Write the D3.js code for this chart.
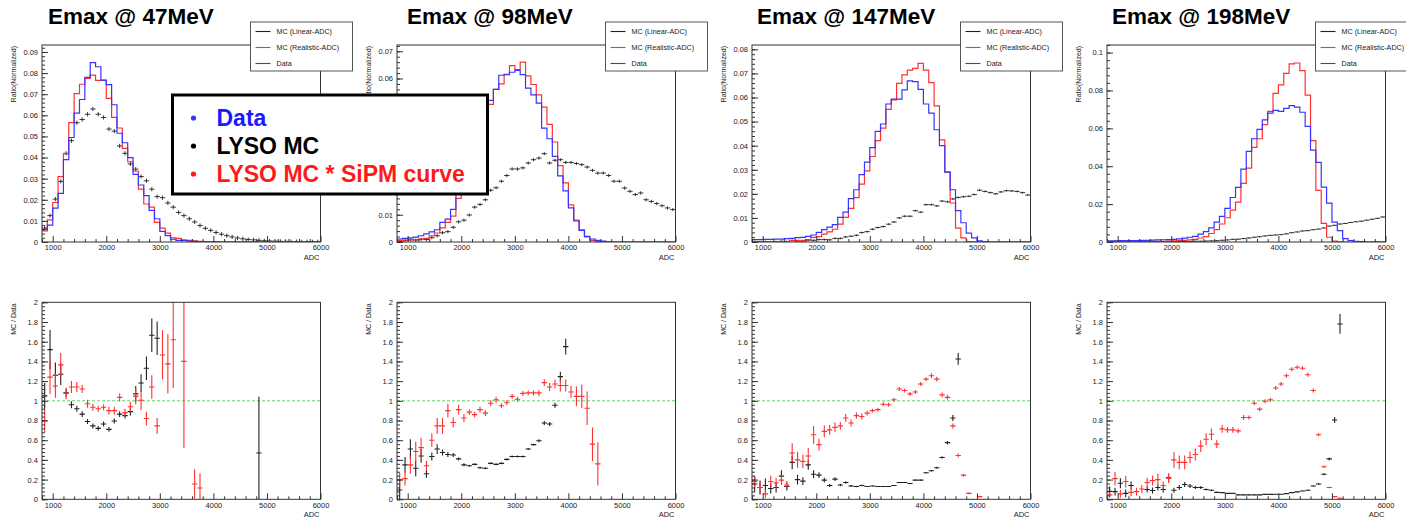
<!DOCTYPE html>
<html>
<head>
<meta charset="utf-8">
<script src="https://cdn.jsdelivr.net/npm/d3@7"></script>
<style>
body { margin: 0; background: #fff; }
text { font-family: "Liberation Sans", Arial, sans-serif; }
</style>
</head>
<body>
<script>
// ---- labels / ticks ----
var titles = ["Emax @ 47MeV", "Emax @ 98MeV", "Emax @ 147MeV", "Emax @ 198MeV"];
var legendLabels = ["MC (Linear-ADC)", "MC (Realistic-ADC)", "Data"];
var keyLabels = ["Data", "LYSO MC", "LYSO MC * SiPM curve"];
var adcTicks = [1000, 2000, 3000, 4000, 5000, 6000];
var adcRange = [800, 6000], binWidth = 100;
var ratioTicks = [0, 0.2, 0.4, 0.6, 0.8, 1, 1.2, 1.4, 1.6, 1.8, 2];
var normTicks = [
  [0, 0.01, 0.02, 0.03, 0.04, 0.05, 0.06, 0.07, 0.08, 0.09],
  [0, 0.01, 0.02, 0.03, 0.04, 0.05, 0.06, 0.07],
  [0, 0.01, 0.02, 0.03, 0.04, 0.05, 0.06, 0.07, 0.08],
  [0, 0.02, 0.04, 0.06, 0.08, 0.1]
];
var normMinor = [0.002, 0.002, 0.002, 0.004];
var normMax = [0.0933, 0.0723, 0.0818, 0.104];
var linErrTop = [0.001, 0.0006, 0.0004, 0.0003];

// ---- histograms, bins of 100 ADC from 800 ----
var data47 = [0.006,0.008,0.016,0.023,0.039,0.0495,0.061,0.0675,0.078,0.085,
  0.083,0.0767,0.0745,0.065,0.0515,0.047,0.040,0.032,0.027,0.022,
  0.015,0.011,0.005,0.003,0.0013,0.0008,0.0007,0.0004,0.0003,0.0002,
  0.0001,0.0001,0.0001,0,0,0,0,0,0,0,
  0,0,0,0,0,0,0,0,0,0,
  0,0];
var real47 = [0.0053,0.0105,0.0187,0.031,0.0417,0.0565,0.0703,0.0747,0.0775,0.079,
  0.0765,0.0765,0.068,0.059,0.054,0.0443,0.038,0.0335,0.025,0.018,
  0.0165,0.0093,0.0066,0.0042,0.002,0.0017,0.001,0.0008,0.0005,0.0003,
  0.0002,0.0001,0,0,0,0,0,0,0,0,
  0,0,0,0,0,0,0,0,0,0,
  0,0];
var lin47 = [0.0066,0.0125,0.0203,0.0287,0.042,0.048,0.0565,0.058,0.0605,0.063,
  0.0605,0.059,0.0535,0.0525,0.0455,0.042,0.037,0.0345,0.031,0.029,
  0.025,0.0215,0.021,0.0185,0.0165,0.014,0.0125,0.011,0.0095,0.0078,
  0.0065,0.0055,0.0045,0.0037,0.003,0.0024,0.0019,0.0015,0.0012,0.001,
  0.0008,0.0006,0.0005,0.0004,0.0003,0.0003,0.0002,0.0002,0.0001,0.0001,
  0.0001,0.0001];

var data98 = [0.0011,0.0013,0.0015,0.0018,0.0023,0.003,0.0037,0.0045,0.0072,0.0084,
  0.012,0.018,0.023,0.029,0.036,0.043,0.049,0.052,0.056,0.0612,
  0.0614,0.0623,0.063,0.0614,0.0565,0.054,0.051,0.0418,0.0379,0.0314,
  0.0243,0.0188,0.0125,0.0077,0.0043,0.0021,0.0011,0.0006,0.0003,0.0001,
  0,0,0,0,0,0,0,0,0,0,
  0,0];
var real98 = [0.0006,0.0007,0.0008,0.0009,0.0011,0.0013,0.0023,0.0033,0.0052,0.0072,
  0.0095,0.016,0.019,0.0257,0.031,0.039,0.043,0.0505,0.056,0.058,
  0.0615,0.0647,0.0633,0.066,0.061,0.0578,0.054,0.0495,0.0432,0.0367,
  0.028,0.0217,0.0136,0.008,0.0045,0.0019,0.0006,0.0002,0.0001,0,
  0,0,0,0,0,0,0,0,0,0,
  0,0];
var lin98 = [0.0002,0.0005,0.0008,0.0007,0.001,0.0009,0.0016,0.0023,0.0034,0.0038,
  0.0054,0.0074,0.008,0.0099,0.0128,0.0138,0.0155,0.019,0.0199,0.0223,
  0.0244,0.0268,0.0268,0.0272,0.029,0.0302,0.0308,0.0324,0.029,0.030,
  0.0302,0.0292,0.0292,0.0288,0.0284,0.0275,0.0263,0.0253,0.0253,0.0244,
  0.0223,0.0223,0.0198,0.0186,0.0174,0.018,0.0155,0.0149,0.0141,0.0133,
  0.0125,0.0119];

var data147 = [0.001,0.001,0.0011,0.0011,0.0012,0.0012,0.0014,0.0015,0.0018,0.0019,
  0.0023,0.0029,0.004,0.0051,0.0062,0.0072,0.0102,0.0124,0.018,0.0217,
  0.028,0.0332,0.0392,0.0459,0.049,0.0573,0.0593,0.0593,0.0632,0.0669,
  0.0666,0.0634,0.0573,0.0535,0.0466,0.040,0.029,0.0217,0.013,0.008,
  0.0037,0.0017,0.0005,0.0002,0,0,0,0,0,0,
  0,0];
var real147 = [0.0002,0.0001,0.0001,0.0002,0.0002,0.0002,0.0002,0.0007,0.0007,0.0007,
  0.001,0.0019,0.0022,0.0033,0.0042,0.0053,0.0074,0.0102,0.014,0.0184,
  0.024,0.0295,0.0355,0.0421,0.0473,0.0551,0.059,0.0659,0.0694,0.0714,
  0.0721,0.0742,0.0714,0.0662,0.0565,0.0424,0.029,0.0162,0.0058,0.0017,
  0.0002,0.0001,0,0,0,0,0,0,0,0,
  0,0];
var lin147 = [0.0002,0.0001,0.0002,0.0001,0.0001,0.0003,0.0002,0.0006,0.0004,0.0004,
  0.0008,0.0007,0.001,0.001,0.0009,0.0015,0.0015,0.0021,0.0024,0.0028,
  0.0039,0.0043,0.0053,0.006,0.0064,0.0074,0.0083,0.01,0.0107,0.0107,
  0.013,0.0124,0.0155,0.0155,0.015,0.017,0.0167,0.0179,0.0185,0.0188,
  0.019,0.0197,0.0215,0.021,0.0205,0.020,0.0208,0.0213,0.0212,0.021,
  0.0205,0.0195];

var data198 = [0.0006,0.0006,0.0007,0.0007,0.0008,0.0008,0.0009,0.0009,0.001,0.0011,
  0.0012,0.0013,0.0014,0.0016,0.002,0.0025,0.003,0.0042,0.0055,0.0075,
  0.0105,0.0135,0.0178,0.0235,0.0288,0.0385,0.0478,0.0545,0.0595,0.0645,
  0.068,0.0695,0.069,0.0705,0.072,0.0712,0.0685,0.061,0.0485,0.042,
  0.029,0.0205,0.0105,0.006,0.0018,0.0008,0.0004,0.0002,0,0,
  0,0];
var real198 = [0.0002,0.0003,0.0002,0.0003,0.0002,0.0002,0.0003,0.0003,0.0003,0.0004,
  0.0004,0.0005,0.0006,0.0008,0.0009,0.0011,0.0014,0.0021,0.0028,0.0045,
  0.0065,0.0095,0.0128,0.0168,0.021,0.031,0.039,0.050,0.0545,0.062,
  0.069,0.0785,0.083,0.089,0.094,0.0945,0.0905,0.0775,0.0535,0.0273,
  0.0098,0.0025,0.0005,0.0001,0,0,0,0,0,0,
  0,0];
var lin198 = [0.0001,0.0001,0.0001,0.0001,0.0001,0.0001,0.0001,0.0001,0.0001,0.0001,
  0.0002,0.0002,0.0002,0.0002,0.0003,0.0003,0.0004,0.0004,0.0005,0.0006,
  0.0007,0.0009,0.0011,0.0014,0.0015,0.0018,0.0021,0.0025,0.0028,0.0032,
  0.0035,0.0037,0.0039,0.0043,0.0049,0.0053,0.0058,0.006,0.0065,0.0068,
  0.0074,0.0084,0.0088,0.0095,0.0098,0.0103,0.0107,0.011,0.0115,0.012,
  0.0125,0.0132];

// ---- MC / Data ratios, same bins ----
var linRatio47 = [1.05,1.52,1.26,1.27,1.08,0.96,0.92,0.865,0.79,0.745,
  0.72,0.765,0.71,0.795,0.865,0.85,0.89,1.07,1.18,1.33,
  1.665,1.635,null,null,null,null,null,null,null,null,
  null,null,null,null,null,null,null,null,null,null,
  0.47];
var linErr47 = [0.13,0.2,0.13,0.11,0.04,0.035,0.03,0.03,0.025,0.025,
  0.025,0.025,0.025,0.025,0.03,0.03,0.04,0.08,0.09,0.12,
  0.17,0.17,0,0,0,0,0,0,0,0,
  0,0,0,0,0,0,0,0,0,0,
  0.57];
var realRatio47 = [0.8,1.24,1.15,1.365,1.075,1.14,1.14,1.12,0.97,0.935,
  0.92,0.935,0.9,0.9,1.035,0.88,0.94,1.045,1.005,0.82,
  1.14,0.745,1.465,1.375,1.62,null,1.40,null,0.155,0.115];
var realErr47 = [0.12,0.17,0.12,0.12,0.06,0.06,0.05,0.04,0.04,0.035,
  0.03,0.03,0.04,0.04,0.04,0.04,0.05,0.08,0.1,0.07,
  0.12,0.08,0.25,0.3,0.49,0,0.88,0,0.15,0.15];

var linRatio98 = [0.095,0.35,0.51,0.315,0.44,0.26,0.435,0.51,0.475,0.455,
  0.45,0.41,0.35,0.34,0.355,0.32,0.315,0.365,0.355,0.365,
  0.405,0.435,0.435,0.435,0.51,0.555,0.595,0.775,0.765,0.955,
  1.245,1.55];
var linErr98 = [0.1,0.08,0.1,0.08,0.07,0.04,0.04,0.05,0.03,0.025,
  0.02,0.015,0.015,0.01,0.01,0.01,0.01,0.01,0.01,0.01,
  0.01,0.01,0.01,0.01,0.01,0.01,0.015,0.02,0.02,0.025,
  0.05,0.08];
var realRatio98 = [0.2,0.21,0.35,0.485,0.525,0.34,0.6,0.745,0.745,0.9,
  0.78,0.91,0.825,0.885,0.86,0.91,0.875,0.975,1.01,0.95,
  0.98,1.045,1.015,1.075,1.08,1.08,1.08,1.185,1.14,1.17,
  1.155,1.155,1.09,1.045,1.045,0.925,0.56,0.36];
var realErr98 = [0.07,0.07,0.09,0.1,0.1,0.05,0.07,0.08,0.08,0.07,
  0.05,0.05,0.04,0.03,0.03,0.03,0.03,0.03,0.03,0.025,
  0.025,0.025,0.025,0.025,0.025,0.025,0.03,0.035,0.04,0.045,
  0.06,0.06,0.06,0.1,0.12,0.17,0.17,0.22];

var linRatio147 = [0.155,0.12,0.14,0.11,0.12,0.235,0.13,0.375,0.2,0.185,
  0.35,0.255,0.245,0.195,0.14,0.205,0.145,0.17,0.135,0.13,
  0.14,0.13,0.135,0.13,0.13,0.13,0.14,0.17,0.17,0.16,
  0.195,0.195,0.27,0.29,0.32,0.425,0.575,0.825,1.425];
var linErr147 = [0.08,0.07,0.07,0.05,0.05,0.06,0.04,0.07,0.05,0.04,
  0.05,0.04,0.03,0.025,0.015,0.02,0.012,0.012,0.01,0.008,
  0.008,0.006,0.006,0.005,0.005,0.005,0.005,0.005,0.005,0.005,
  0.006,0.006,0.007,0.008,0.01,0.012,0.018,0.03,0.06];
var realRatio147 = [0.18,0.12,0.055,0.18,0.165,0.195,0.145,0.47,0.40,0.385,
  0.44,0.655,0.555,0.69,0.705,0.73,0.745,0.825,0.775,0.85,
  0.84,0.875,0.9,0.91,0.965,0.96,1.01,1.12,1.105,1.07,
  1.09,1.17,1.22,1.255,1.22,1.06,1.035,0.745,0.445,0.245,
  0.06,null,0.027];
var realErr147 = [0.06,0.06,0.04,0.06,0.05,0.05,0.04,0.1,0.08,0.07,
  0.08,0.09,0.06,0.06,0.05,0.05,0.04,0.04,0.035,0.03,
  0.03,0.025,0.02,0.02,0.02,0.02,0.02,0.02,0.02,0.02,
  0.02,0.02,0.02,0.025,0.025,0.025,0.025,0.025,0.02,0.015,
  0.008,0,0.008];

var linRatio198 = [0.08,0.078,0.163,0.06,0.14,null,null,0.1,0.09,0.12,
  0.1,0.22,0.092,0.12,0.15,0.135,0.12,0.12,0.1,0.092,
  0.07,0.068,0.06,0.06,0.045,0.045,0.045,0.045,0.045,0.05,
  0.05,0.052,0.052,0.058,0.068,0.075,0.085,0.092,0.135,0.155,
  0.255,0.41,0.805,1.78];
var linErr198 = [0.05,0.04,0.05,0.04,0.04,0,0,0.03,0.03,0.03,
  0.03,0.04,0.025,0.025,0.025,0.02,0.015,0.015,0.01,0.008,
  0.006,0.005,0.004,0.004,0.003,0.003,0.003,0.003,0.003,0.003,
  0.003,0.003,0.003,0.003,0.003,0.004,0.004,0.005,0.006,0.007,
  0.01,0.015,0.03,0.1];
var realRatio198 = [0.045,0.21,0.055,0.18,0.07,0.078,0.105,0.17,0.19,0.2,
  0.14,0.215,0.40,0.375,0.375,0.425,0.455,0.54,0.61,0.66,
  0.56,0.715,0.705,0.705,0.695,0.83,0.83,0.975,0.915,0.995,
  1.01,1.13,1.17,1.255,1.32,1.34,1.33,1.265,1.105,0.655,
  0.33,0.12,0.027,0.01];
var realErr198 = [0.03,0.07,0.04,0.06,0.04,0.04,0.04,0.05,0.05,0.06,
  0.04,0.05,0.08,0.07,0.07,0.06,0.06,0.06,0.06,0.06,
  0.04,0.04,0.03,0.03,0.025,0.025,0.02,0.02,0.02,0.02,
  0.02,0.02,0.02,0.02,0.02,0.02,0.02,0.02,0.02,0.015,
  0.012,0.008,0.006,0.005];

var panels = [
  {data: data47, real: real47, lin: lin47, linR: linRatio47, linE: linErr47, realR: realRatio47, realE: realErr47},
  {data: data98, real: real98, lin: lin98, linR: linRatio98, linE: linErr98, realR: realRatio98, realE: realErr98},
  {data: data147, real: real147, lin: lin147, linR: linRatio147, linE: linErr147, realR: realRatio147, realE: realErr147},
  {data: data198, real: real198, lin: lin198, linR: linRatio198, linE: linErr198, realR: realRatio198, realE: realErr198}
];

// ---- layout ----
var left0 = 42, gap = 355, fw = 278.5;
var topFrame = [45, 242], botFrame = [302.3, 499.3];
var titleDx = [6, 10, 5, 5];
var keyBox = {x: 172.5, y: 95, w: 315, h: 99};
var cBlue = "#3535ff", cRed = "#ff3030", cBlack = "#222";

var svg = d3.select("body").append("svg")
  .attr("width", 1406)
  .attr("height", 519);
var defs = svg.append("defs");

function styleAxis(a) {
  a.attr("color", "#333").attr("font-size", 7.5)
    .attr("font-family", "'Liberation Sans', Arial, sans-serif");
  a.select(".domain").remove();
  a.selectAll("text").attr("fill", "#222");
}

// tick labels that sit under the key box are hidden in the original anyway
function dropHidden(a, isX, pos) {
  a.selectAll(".tick").each(function(d) {
    var px = isX ? a.node().__scale(d) : pos;
    var py = isX ? pos : a.node().__scale(d);
    if (px > keyBox.x && px < keyBox.x + keyBox.w + 8 && py > keyBox.y && py < keyBox.y + keyBox.h)
      d3.select(this).select("text").remove();
  });
}

function drawFrame(g, x, y, yTicks, yMinor, yLabel) {
  var x0 = x.range()[0], x1 = x.range()[1];
  var y0 = y.range()[0], y1 = y.range()[1];

  g.append("rect")
    .attr("x", x0).attr("y", y1)
    .attr("width", x1 - x0).attr("height", y0 - y1)
    .attr("fill", "none").attr("stroke", "#333").attr("stroke-width", 1);

  var xMinorVals = d3.range(800, 6001, 200).filter(function(v) { return v % 1000 != 0; });
  g.append("g").attr("transform", "translate(0," + y0 + ")")
    .call(d3.axisBottom(x).tickValues(xMinorVals).tickSize(-3).tickFormat(""))
    .call(styleAxis);
  g.append("g").attr("transform", "translate(0," + y0 + ")")
    .call(d3.axisBottom(x).tickValues(adcTicks).tickSize(-6).tickPadding(3).tickFormat(String))
    .call(styleAxis);

  var yMax = y.domain()[1];
  var yMinorVals = d3.range(0, yMax + 1e-9, yMinor);
  g.append("g").attr("transform", "translate(" + x0 + ",0)")
    .call(d3.axisLeft(y).tickValues(yMinorVals).tickSize(-3).tickFormat(""))
    .call(styleAxis);
  var ya = g.append("g").attr("transform", "translate(" + x0 + ",0)")
    .call(d3.axisLeft(y).tickValues(yTicks).tickSize(-6).tickPadding(4).tickFormat(String))
    .call(styleAxis);
  ya.node().__scale = y;
  dropHidden(ya, false, x0 - 8);

  g.append("text")
    .attr("x", x1 - 1).attr("y", y0 + 18)
    .attr("text-anchor", "end")
    .attr("font-size", 7.5).attr("fill", "#222")
    .text("ADC");

  g.append("text")
    .attr("transform", "translate(" + (x0 - 26) + "," + (y1 + 1) + ")rotate(-90)")
    .attr("text-anchor", "end")
    .attr("font-size", 7).attr("fill", "#222")
    .text(yLabel);
}

function stepPath(vals, x, y) {
  var pts = vals.map(function(v, i) { return [adcRange[0] + i * binWidth, v]; });
  pts.push([adcRange[0] + vals.length * binWidth, vals[vals.length - 1]]);
  return d3.line()
    .x(function(d) { return x(d[0]); })
    .y(function(d) { return y(d[1]); })
    .curve(d3.curveStepAfter)(pts);
}

function crosses(g, vals, errs, x, y, color, w) {
  vals.forEach(function(v, i) {
    if (v == null) return;
    var lo = adcRange[0] + i * binWidth, e = errs[i] || 0;
    g.append("line")
      .attr("x1", x(lo)).attr("x2", x(lo + binWidth))
      .attr("y1", y(v)).attr("y2", y(v))
      .attr("stroke", color).attr("stroke-width", w);
    if (e > 0) g.append("line")
      .attr("x1", x(lo + binWidth / 2)).attr("x2", x(lo + binWidth / 2))
      .attr("y1", y(v - e)).attr("y2", y(v + e))
      .attr("stroke", color).attr("stroke-width", w);
  });
}

panels.forEach(function(p, k) {
  var xl = left0 + k * gap, xr = xl + fw;
  var x = d3.scaleLinear().domain(adcRange).range([xl, xr]);
  var yT = d3.scaleLinear().domain([0, normMax[k]]).range([topFrame[1], topFrame[0]]);
  var yB = d3.scaleLinear().domain([0, 2]).range([botFrame[1], botFrame[0]]);

  defs.append("clipPath").attr("id", "ct" + k).append("rect")
    .attr("x", xl).attr("y", topFrame[0]).attr("width", fw).attr("height", topFrame[1] - topFrame[0]);
  defs.append("clipPath").attr("id", "cb" + k).append("rect")
    .attr("x", xl).attr("y", botFrame[0]).attr("width", fw).attr("height", botFrame[1] - botFrame[0]);

  var g = svg.append("g");

  // top: normalised spectra
  var top = g.append("g").attr("clip-path", "url(#ct" + k + ")");
  crosses(top, p.lin, p.lin.map(function() { return linErrTop[k]; }), x, yT, cBlack, 0.9);
  top.append("path").attr("d", stepPath(p.real, x, yT))
    .attr("fill", "none").attr("stroke", cRed).attr("stroke-width", 1.2);
  top.append("path").attr("d", stepPath(p.data, x, yT))
    .attr("fill", "none").attr("stroke", cBlue).attr("stroke-width", 1.2);
  drawFrame(g, x, yT, normTicks[k], normMinor[k], "Ratio(Normalized)");

  // bottom: MC / Data
  var bot = g.append("g").attr("clip-path", "url(#cb" + k + ")");
  bot.append("line")
    .attr("x1", xl).attr("x2", xr)
    .attr("y1", yB(1)).attr("y2", yB(1))
    .attr("stroke", "#5cd65c").attr("stroke-width", 1).attr("stroke-dasharray", "3,2");
  crosses(bot, p.linR, p.linE, x, yB, cBlack, 1.1);
  crosses(bot, p.realR, p.realE, x, yB, cRed, 1.1);
  drawFrame(g, x, yB, ratioTicks, 0.04, "MC / Data");

  // title
  svg.append("text")
    .attr("x", xl + titleDx[k]).attr("y", 23.5)
    .attr("font-size", 22.5).attr("font-weight", "bold").attr("fill", "#000")
    .text(titles[k]);

  // panel legend
  var lx = xr - 70, ly = 22;
  var leg = svg.append("g");
  leg.append("rect")
    .attr("x", lx).attr("y", ly).attr("width", 102).attr("height", 49)
    .attr("fill", "#fff").attr("stroke", "#444").attr("stroke-width", 0.9);
  [cBlack, cRed, cBlue].forEach(function(c, j) {
    var yy = ly + 9.5 + 16 * j;
    leg.append("line")
      .attr("x1", lx + 5).attr("x2", lx + 20).attr("y1", yy).attr("y2", yy)
      .attr("stroke", c).attr("stroke-width", 1.1);
    leg.append("text")
      .attr("x", lx + 26).attr("y", yy + 2.5)
      .attr("font-size", 7.2).attr("fill", "#222")
      .text(legendLabels[j]);
  });
});

// overall key box
var key = svg.append("g");
key.append("rect")
  .attr("x", keyBox.x).attr("y", keyBox.y).attr("width", keyBox.w).attr("height", keyBox.h)
  .attr("fill", "#fff").attr("stroke", "#000").attr("stroke-width", 3);
[cBlue, "#000", "#ff1a1a"].forEach(function(c, j) {
  var yy = 118 + 28 * j;
  key.append("circle").attr("cx", 193.5).attr("cy", yy).attr("r", 2.6).attr("fill", c);
  key.append("text")
    .attr("x", 216.5).attr("y", yy + 8)
    .attr("font-size", 23).attr("font-weight", "bold").attr("fill", j == 0 ? "#1a1aff" : c)
    .text(keyLabels[j]);
});
</script>
</body>
</html>
